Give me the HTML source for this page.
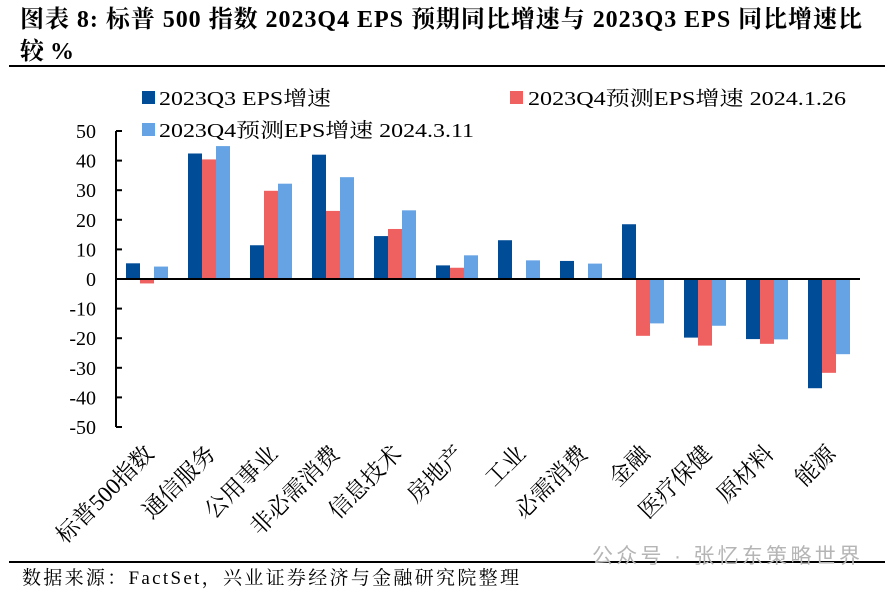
<!DOCTYPE html>
<html><head><meta charset="utf-8"><style>
body{margin:0;background:#fff;}
svg{display:block;font-family:"Liberation Serif","Noto Serif CJK SC",serif;}
</style></head><body>
<svg id="chart" width="894" height="592" viewBox="0 0 894 592">
<text x="20" y="27" font-size="24" font-weight="bold" textLength="842" lengthAdjust="spacing">图表 8:  标普 500 指数 2023Q4 EPS 预期同比增速与 2023Q3 EPS 同比增速比</text>
<text x="20" y="59" font-size="24" font-weight="bold">较 %</text>
<rect x="9" y="65" width="876" height="2" fill="#000"/>
<g font-size="20">
<rect x="142" y="91" width="13" height="13" fill="#004c97"/>
<text x="159" y="105" textLength="172" lengthAdjust="spacingAndGlyphs">2023Q3 EPS增速</text>
<rect x="510" y="91" width="13" height="13" fill="#ef6161"/>
<text x="528" y="105" textLength="318" lengthAdjust="spacingAndGlyphs">2023Q4预测EPS增速 2024.1.26</text>
<rect x="142" y="123" width="13" height="13" fill="#66a3e4"/>
<text x="159" y="137" textLength="315" lengthAdjust="spacingAndGlyphs">2023Q4预测EPS增速 2024.3.11</text>
</g>
<g id="plot"></g>
<rect x="9" y="561" width="876" height="2" fill="#000"/>
<text x="592" y="563" font-size="21" fill="#b5b5b5" font-family="Liberation Sans,Noto Sans CJK SC,sans-serif" textLength="268" lengthAdjust="spacing">公众号 · 张忆东策略世界</text>
<text x="22" y="584" font-size="19" textLength="497" lengthAdjust="spacing">数据来源：FactSet，兴业证券经济与金融研究院整理</text>
</svg>
<script>
const categories=["标普500指数","通信服务","公用事业","非必需消费","信息技术","房地产","工业","必需消费","金融","医疗保健","原材料","能源"];
const q3Values=[5.3,42.4,11.4,42.0,14.5,4.6,13.1,6.1,18.5,-19.8,-20.3,-36.9];
const q4Jan=[-1.5,40.4,29.8,23.0,16.9,3.8,0.3,0.3,-19.2,-22.5,-21.9,-31.7];
const q4Mar=[4.2,44.9,32.2,34.4,23.2,8.0,6.3,5.2,-15.0,-15.8,-20.4,-25.4];
const yTicks=[50,40,30,20,10,0,-10,-20,-30,-40,-50];
const NS='http://www.w3.org/2000/svg';
const g=document.getElementById('plot');
const x0=116,x1=860,yTop=131,yBot=427,vMax=50,vMin=-50;
const y=v=>yTop+(vMax-v)/(vMax-vMin)*(yBot-yTop);
const step=(x1-x0)/categories.length;
const cx=i=>x0+step*(i+0.5);
function mk(t,a){const e=document.createElementNS(NS,t);for(const k in a)e.setAttribute(k,a[k]);g.appendChild(e);return e;}
const series=[[q3Values,'#004c97','q3'],[q4Jan,'#ef6161','q4-jan'],[q4Mar,'#66a3e4','q4-mar']];
const bw=14;
series.forEach(([vals,col,nm],s)=>{vals.forEach((v,i)=>{
 const xx=cx(i)+(s-1.5)*bw;
 const r=mk('rect',{x:xx,y:Math.min(y(v),y(0)),width:bw,height:Math.abs(y(v)-y(0)),fill:col});
 
 
});});
const ax=mk('line',{x1:x0,y1:yTop,x2:x0,y2:yBot,stroke:'#000','stroke-width':2});


yTicks.forEach(t=>{
 const tk=mk('line',{x1:x0,y1:y(t),x2:x0+6,y2:y(t),stroke:'#000','stroke-width':2});
 
 
 const tl=mk('text',{x:96,y:y(t)+7,'font-size':20,'text-anchor':'end'});
 tl.textContent=t;
 
 
});
const zx=mk('line',{x1:x0,y1:y(0),x2:x1,y2:y(0),stroke:'#000','stroke-width':2});


categories.forEach((c,i)=>{
 const px=cx(i)+8,py=455;
 const t=mk('text',{x:px,y:py,'font-size':23,'text-anchor':'end',transform:`rotate(-45 ${px} ${py})`});
 t.textContent=c;
 
 
});
</script>
</body></html>
